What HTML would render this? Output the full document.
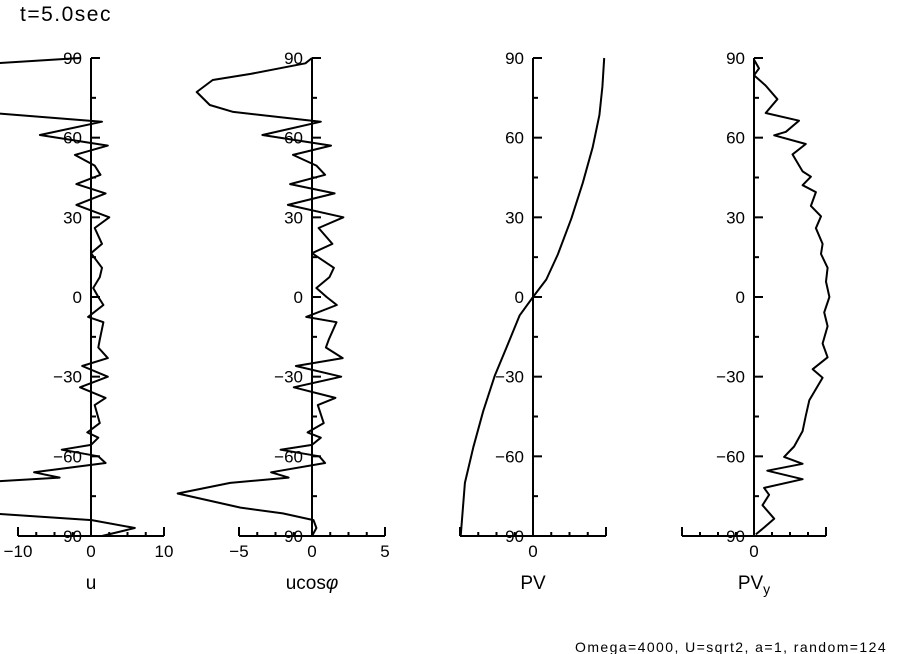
<!DOCTYPE html>
<html><head><meta charset="utf-8">
<style>
html,body{margin:0;padding:0;background:#fff;}
svg{display:block;font-family:"Liberation Sans",sans-serif;}
text{fill:#000;}
</style></head>
<body>
<svg id="chart" width="904" height="654" viewBox="0 0 904 654" xmlns="http://www.w3.org/2000/svg">
<text x="20" y="21" font-size="21" letter-spacing="1.5">t=5.0sec</text>
<text x="575" y="652" font-size="14" letter-spacing="1.4" textLength="312" lengthAdjust="spacing">Omega=4000, U=sqrt2, a=1, random=124</text>
<g id="plots"></g>
</svg>
<script>
// shared latitude grid for u and ucos
const latU = [90,88,84,81.7,77.2,72.3,69.7,66,61,57,53.5,49.5,46,42.5,39,34.7,30,26,20,16.5,11,7.5,3.4,0,-3,-7.5,-9.5,-16,-19,-23,-26,-30,-34,-38,-40.7,-47.5,-51,-53,-55.7,-57.5,-60,-62.5,-66,-68,-70,-74,-79.3,-81.5,-84,-87,-90];
const uVals = [-1.5,-13,-40,-47,-35.7,-23,-15.5,1.5,-7,2.3,-2.2,0.5,1.3,-2,2,-2,2.5,0.5,1.5,0,1.5,1.2,0.3,1,1.7,-0.4,1.7,1.2,1,2.3,-1.2,2.3,-1.5,2,0.5,1.2,-0.5,1,0,-4,1,2,-7.8,-4.3,-16.4,-33,-26,-13.6,0.1,6,1.5];
const ucosVals = [0,-0.45,-4.2,-6.8,-7.9,-7,-5.4,0.6,-3.4,1.3,-1.3,0.3,0.9,-1.5,1.55,-1.65,2.15,0.45,1.4,0,1.5,1.2,0.3,1,1.7,-0.4,1.68,1.15,0.95,2.1,-1.1,2.0,-1.25,1.6,0.4,0.8,-0.3,0.6,0,-2.15,0.5,0.9,-2.8,-1.6,-5.6,-9.2,-4.9,-2,0.1,0.3,0];
const latPV = [90,79.2,68.5,56.4,43,29.5,16,6.6,0,-6.9,-19,-29.7,-43,-56.6,-70,-90];
const pvVals = [3.9,3.8,3.64,3.27,2.73,2.1,1.36,0.73,0,-0.73,-1.45,-2.1,-2.73,-3.27,-3.73,-3.96];
const latPVy = [89.4,86.1,83.5,79.6,74.5,69.3,66.4,62.2,60.9,57.6,53.7,47.3,45.3,42.1,39.5,34.3,30.4,25.9,20,16.2,11,5.8,0,-5.8,-11,-17.5,-22.7,-27.2,-30.4,-38.9,-44.7,-50.5,-56.3,-60.2,-62.8,-65.4,-68.6,-71.9,-74.5,-78.4,-83.5,-86.8,-89.4];
const pvyVals = [0,0.28,0,0.65,1.3,0.65,2.5,1.77,1.12,2.88,2.14,2.7,3.16,2.7,3.44,3.16,3.72,3.44,3.81,3.72,4.09,4.0,4.19,3.9,4.09,3.81,4.09,3.26,3.81,3.07,2.88,2.7,2.23,1.67,2.7,0.74,2.7,0.56,0.84,0.47,1.12,0.56,0.1];
const yTicks = [90,60,30,0,-30,-60,-90];

const NS = "http://www.w3.org/2000/svg";
const root = document.getElementById('plots');
const Y0 = 58, Y1 = 536;
function yScale(lat){ return Y0 + (90 - lat) / 180 * (Y1 - Y0); }
function mk(tag, attrs, parent){ const e = document.createElementNS(NS, tag); for (const k in attrs) e.setAttribute(k, attrs[k]); (parent||root).appendChild(e); return e; }

const panels = [
  {name:'u', cx:91, pxPerUnit:7.3, range:10, minorStep:2.5, xLabels:[-10,0,10], lats:latU, vals:uVals, title:'u'},
  {name:'ucos', cx:312, pxPerUnit:14.6, range:5, minorStep:1.25, xLabels:[-5,0,5], lats:latU, vals:ucosVals, title:'ucos'},
  {name:'pv', cx:533, pxPerUnit:18.25, range:4, minorStep:1, xLabels:[0], lats:latPV, vals:pvVals, title:'PV'},
  {name:'pvy', cx:754, pxPerUnit:18, range:4, minorStep:1, xLabels:[0], lats:latPVy, vals:pvyVals, title:'PVy'}
];

panels.forEach(p => {
  const g = mk('g', {});
  
  
  const xScale = v => p.cx + v * p.pxPerUnit;
  const ax = mk('line', {x1:p.cx, y1:Y0, x2:p.cx, y2:Y1, stroke:'#000', 'stroke-width':2}, g);
  
  
  for (let lat = 90; lat >= -90; lat -= 15) {
    const major = lat % 30 === 0;
    const t = mk('line', {x1:p.cx, y1:yScale(lat), x2:p.cx + (major ? 9 : 5), y2:yScale(lat), stroke:'#000', 'stroke-width':2}, g);
    
    
  }
  yTicks.forEach(lat => {
    const t = mk('text', {x:p.cx - 9, y:yScale(lat) + 6, 'font-size':17, 'text-anchor':'end'}, g);
    t.textContent = lat < 0 ? '\u2212' + (-lat) : String(lat);
    
    
  });
  const bx = mk('line', {x1:xScale(-p.range), y1:Y1, x2:xScale(p.range), y2:Y1, stroke:'#000', 'stroke-width':2}, g);
  
  
  const n = Math.round(2 * p.range / p.minorStep);
  for (let i = 0; i <= n; i++) {
    const v = -p.range + i * p.minorStep;
    const end = (i === 0 || i === n);
    const t = mk('line', {x1:xScale(v), y1:Y1, x2:xScale(v), y2:Y1 - (end ? 9 : 4), stroke:'#000', 'stroke-width':2}, g);
    
    
  }
  p.xLabels.forEach(v => {
    const t = mk('text', {x:xScale(v), y:557, 'font-size':17, 'text-anchor':'middle'}, g);
    t.textContent = v < 0 ? '\u2212' + (-v) : String(v);
    
    
  });
  const tt = mk('text', {x:p.cx, y:589, 'font-size':19, 'text-anchor':'middle'}, g);
  
  
  if (p.name === 'ucos') {
    tt.textContent = 'ucos';
    const s = mk('tspan', {'font-style':'italic'}, tt); s.textContent = '\u03c6';
  } else if (p.name === 'pvy') {
    tt.textContent = 'PV';
    const s = mk('tspan', {'font-size':14, dy:5}, tt); s.textContent = 'y';
  } else tt.textContent = p.title;
  const d = p.lats.map((lat, i) => (i ? 'L' : 'M') + xScale(p.vals[i]).toFixed(1) + ',' + yScale(lat).toFixed(1)).join(' ');
  const path = mk('path', {d:d, fill:'none', stroke:'#000', 'stroke-width':2, 'stroke-linejoin':'round'}, g);
  
  
});
</script>
</body></html>
